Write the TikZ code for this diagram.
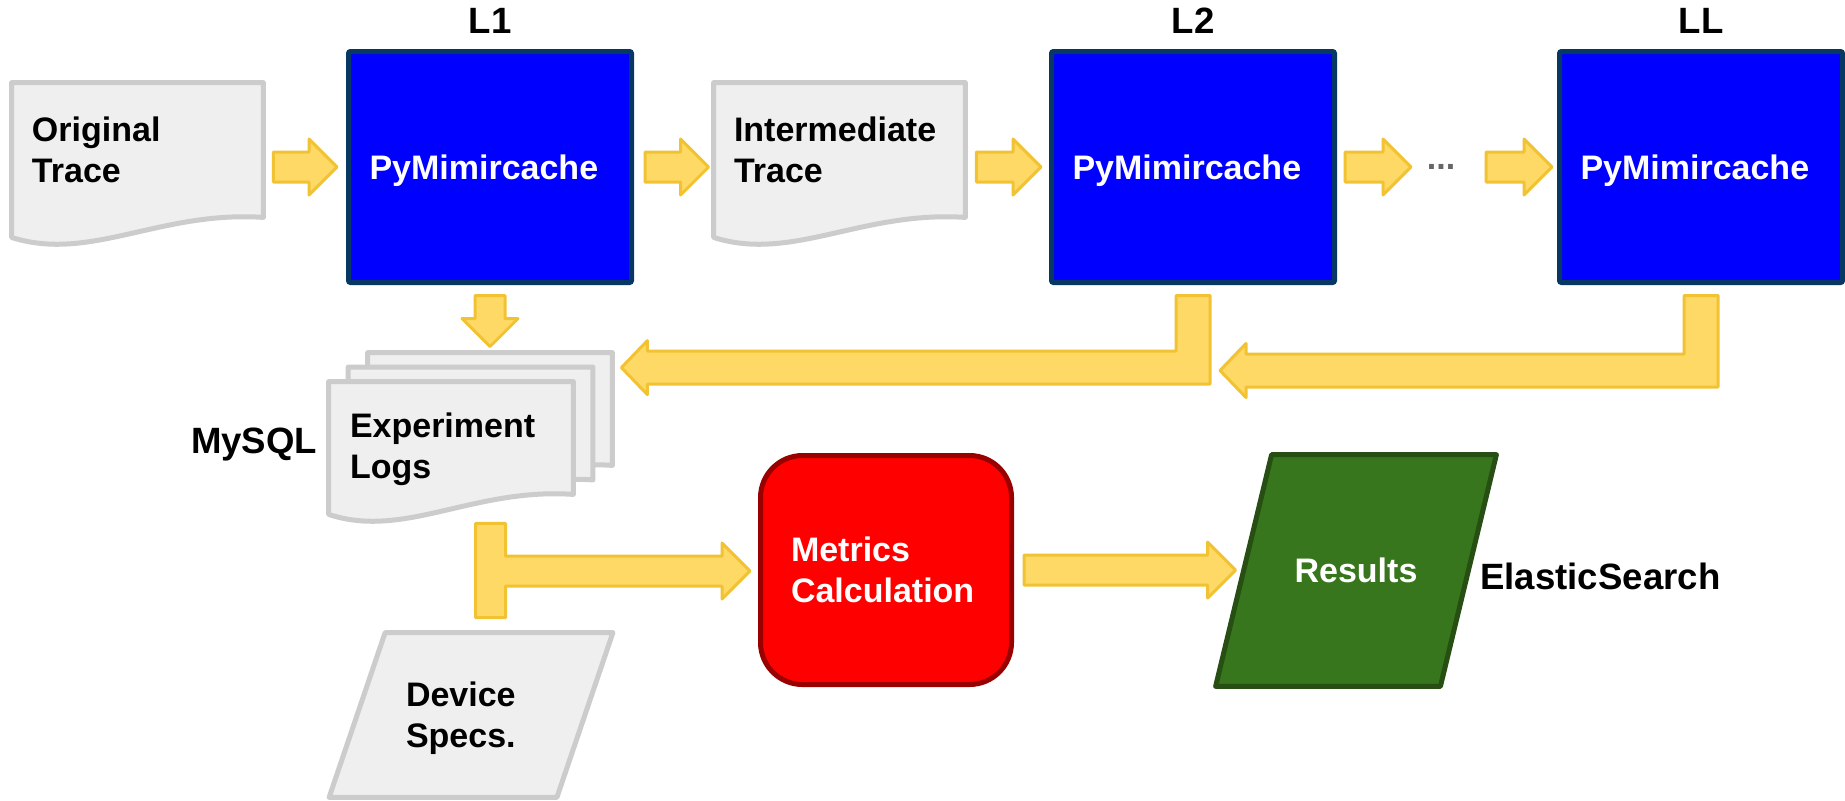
\documentclass[tikz,border=0pt]{standalone}
\usepackage{fontspec}
\setmainfont{Liberation Sans}
\usetikzlibrary{calc,backgrounds,positioning}

\definecolor{docfill}{HTML}{EFEFEF}
\definecolor{docline}{HTML}{CCCCCC}
\definecolor{pyfill}{HTML}{0000FF}
\definecolor{pyline}{HTML}{073763}
\definecolor{metfill}{HTML}{FF0000}
\definecolor{metline}{HTML}{990000}
\definecolor{resfill}{HTML}{38761D}
\definecolor{resline}{HTML}{274E13}
\definecolor{arrfill}{HTML}{FFD966}
\definecolor{arrline}{HTML}{F1C232}
\definecolor{dotgray}{HTML}{666666}

% block arrows, #1 = start, #2 = tip
\newcommand{\rarrow}[2]{%
  \filldraw[blockarrow] let \p1=#1, \p2=#2 in
    (\x1,\y1+7.5pt) -- (\x2-14pt,\y1+7.5pt) -- (\x2-14pt,\y1+14pt) -- (\x2,\y1)
    -- (\x2-14pt,\y1-14pt) -- (\x2-14pt,\y1-7.5pt) -- (\x1,\y1-7.5pt) -- cycle;}
\newcommand{\darrow}[2]{%
  \filldraw[blockarrow] let \p1=#1, \p2=#2 in
    (\x1-7.5pt,\y1) -- (\x1+7.5pt,\y1) -- (\x1+7.5pt,\y2+14pt) -- (\x1+14pt,\y2+14pt)
    -- (\x1,\y2) -- (\x1-14pt,\y2+14pt) -- (\x1-7.5pt,\y2+14pt) -- cycle;}
\newcommand{\larrow}[2]{%
  \filldraw[blockarrow] let \p1=#1, \p2=#2 in
    (\x1-8.5pt,\y1) -- (\x1+8.5pt,\y1) -- (\x1+8.5pt,\y2-8.25pt) -- (\x2+13pt,\y2-8.25pt)
    -- (\x2+13pt,\y2-13.5pt) -- (\x2,\y2) -- (\x2+13pt,\y2+13.5pt) -- (\x2+13pt,\y2+8.25pt)
    -- (\x1-8.5pt,\y2+8.25pt) -- cycle;}
\newcommand{\tarrow}[3]{%
  \filldraw[blockarrow] let \p1=#1, \p2=#2, \p3=#3 in
    (\x1-7.5pt,\y1) -- (\x1+7.5pt,\y1) -- (\x1+7.5pt,\y3+7.5pt) -- (\x3-14pt,\y3+7.5pt)
    -- (\x3-14pt,\y3+14pt) -- (\x3,\y3) -- (\x3-14pt,\y3-14pt) -- (\x3-14pt,\y3-7.5pt)
    -- (\x1+7.5pt,\y3-7.5pt) -- (\x1+7.5pt,\y2) -- (\x1-7.5pt,\y2) -- cycle;}

% document outline with wavy bottom, #2 = lift of the right corner
\newcommand{\docshape}[2]{%
  \filldraw[docstyle] (#1.north west) -- (#1.north east) -- ($(#1.south east)+(0,-#2)$)
    .. controls ($(#1.south east)!0.41!(#1.south west)+(0,{-7-#2})$)
    and ($(#1.south east)!0.69!(#1.south west)+(0,{45-#2})$)
    .. ($(#1.south west)+(0,{20-#2})$) -- cycle;}
% parallelogram round a node, #2 = half slant
\newcommand{\parashape}[3]{%
  \filldraw[#3] ($(#1.north west)+(#2,0)$) -- ($(#1.north east)+(#2,0)$)
    -- ($(#1.south east)+(-#2,0)$) -- ($(#1.south west)+(-#2,0)$) -- cycle;}

\begin{document}
\begin{tikzpicture}[x=0.5pt,y=-0.5pt,
  every node/.style={font=\fontsize{17}{20.5}\selectfont\bfseries},
  tag/.style={inner sep=0pt, font=\fontsize{18.3}{22}\selectfont\bfseries},
  docstyle/.style={fill=docfill, draw=docline, line width=2.5pt, line join=round},
  docbox/.style={inner xsep=10pt, inner ysep=0pt, minimum width=125.5pt,
    minimum height=67pt, text width=105.5pt, align=left},
  logbox/.style={docbox, inner xsep=10.5pt, minimum width=122pt,
    minimum height=64pt, text width=101pt},
  pybox/.style={draw=pyline, fill=pyfill, line width=2.5pt, rounded corners=1pt,
    text=white, minimum width=141.5pt, minimum height=115.5pt,
    text width=120.5pt, align=left, text depth=0pt},
  metbox/.style={draw=metline, fill=metfill, line width=2.5pt, rounded corners=21pt,
    text=white, minimum width=125.5pt, minimum height=114.5pt,
    text width=95pt, align=left},
  parabox/.style={inner sep=0pt},
  blockarrow/.style={fill=arrfill, draw=arrline, line width=1.5pt, line join=round}]

\useasboundingbox (0,0) rectangle (1845,800);

% top row
\node[docbox] (orig) at (137.5,150) {Original\\Trace};
\node[pybox] (L1) at (490,167) {PyMimircache};
\node[docbox] (inter) at (839.5,150) {Intermediate\\Trace};
\node[pybox] (L2) at (1193,167) {PyMimircache};
\node[text=dotgray] (dots) at (1441,167) {...};
\node[pybox] (LL) at (1701,167) {PyMimircache};

\node[tag, anchor=base] (tL1) at ($(L1.north)+(0,-15.5)$) {L1};
\node[tag, anchor=base] (tL2) at ($(L2.north)+(0,-15.5)$) {L2};
\node[tag, anchor=base] (tLL) at ($(LL.north)+(0,-15.5)$) {LL};

% logs
\node[logbox] (logs3) at (490,417) {};
\node[logbox] (logs2) at (470.5,431.5) {};
\node[logbox] (logs1) at (451,446) {Experiment\\\smash{Logs}};
\node[tag, anchor=base east] (mysql) at ($(logs1.west)+(-11,7)$) {MySQL};

% bottom row
\node[parabox, minimum width=113.5pt, minimum height=82pt, text width=65pt,
  align=left] (specs) at (471,715) {Device\\\smash{Specs.}};
\node[metbox] (metrics) at (886,570) {Metrics\\Calculation};
\node[parabox, minimum width=112pt, minimum height=115.5pt, text=white,
  text depth=0pt] (results) at (1356,570.5) {Results};
\node[tag, anchor=base west] (es) at ($(results.east)+(11.5,18.5)$) {ElasticSearch};

\begin{scope}[on background layer]
  \docshape{orig}{0}
  \docshape{inter}{0}
  \docshape{logs3}{16}
  \docshape{logs2}{16}
  \docshape{logs1}{16}
  \parashape{specs}{28}{docstyle}
  \parashape{results}{28}{fill=resfill, draw=resline, line width=2.5pt, line join=round}
\end{scope}

% arrows
\rarrow{($(orig.east |- L1.west)+(10,0)$)}{($(L1.west)+(-9,0)$)}
\rarrow{($(L1.east)+(11,0)$)}{($(inter.west |- L1.west)+(-5,0)$)}
\rarrow{($(inter.east |- L2.west)+(11,0)$)}{($(L2.west)+(-8,0)$)}
\rarrow{($(L2.east)+(8,0)$)}{($(dots.center)+(-30,0)$)}
\rarrow{($(dots.center)+(45,0)$)}{($(LL.west)+(-5,0)$)}
\darrow{($(L1.south)+(0,10.5)$)}{($(logs3.north -| L1.south)+(0,-6)$)}
\larrow{($(L2.south)+(0,10.5)$)}{($(logs3.north east)+(9,15)$)}
\larrow{($(LL.south)+(0,10.5)$)}{($(L2.south)+(27,85.5)$)}
\tarrow{($(logs1.south)+(39.5,13)$)}{($(specs.north)+(19.5,-15)$)}{($(metrics.west)+(-8,1)$)}
\rarrow{($(metrics.east)+(10,0)$)}{($(results.west)+(-8,0)$)}
\end{tikzpicture}
\end{document}
